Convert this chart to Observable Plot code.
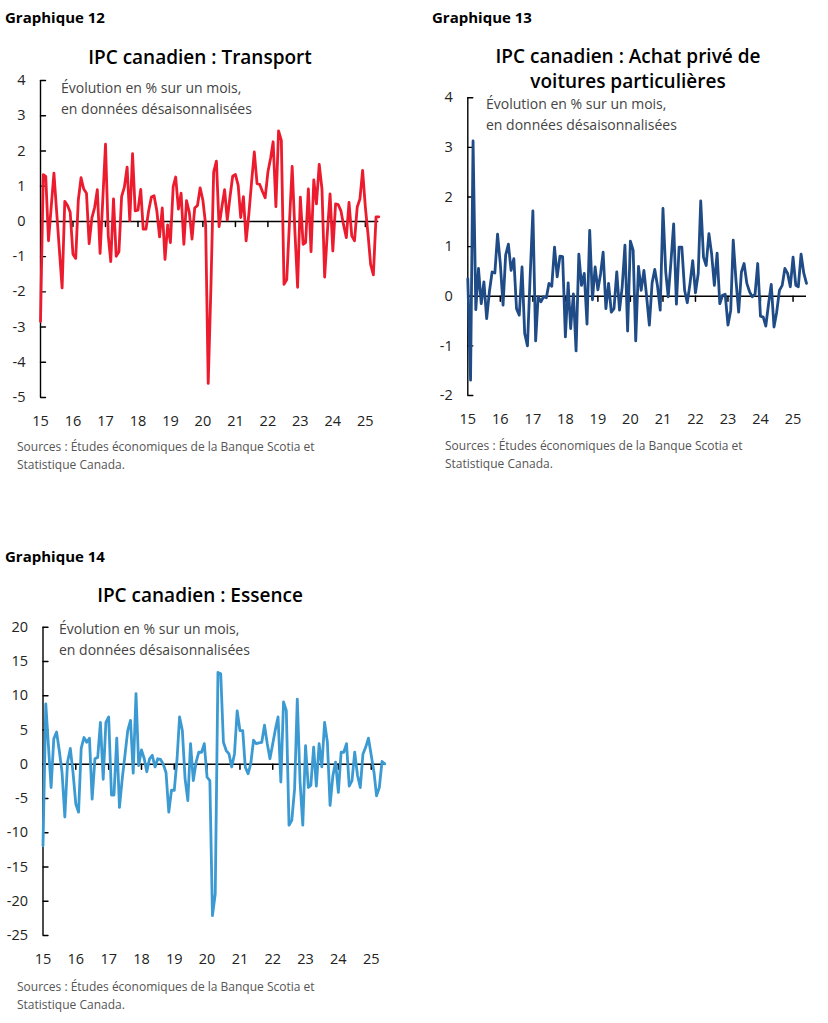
<!DOCTYPE html>
<html><head><meta charset="utf-8">
<script src="https://cdn.jsdelivr.net/npm/d3@7"></script>
<script src="https://cdn.jsdelivr.net/npm/@observablehq/plot@0.6"></script>
<style>
body{margin:0;width:828px;height:1023px;position:relative;background:#fff;font-family:"Open Sans",sans-serif;overflow:hidden}
.abs{position:absolute;white-space:nowrap}
.gr{font-weight:700;font-size:15px;color:#000;line-height:normal}
.ti{font-weight:600;font-size:19px;color:#000;text-align:center;line-height:25.3px}
.sub{font-size:14px;color:#444;line-height:21px}
.src{font-size:12px;color:#555;line-height:17.6px}
.panel{position:absolute}
</style></head><body>

<div class="abs gr" style="left:5px;top:6.5px">Graphique 12</div>
<div class="abs ti" style="left:0;width:400px;top:45px">IPC canadien : Transport</div>
<div class="abs gr" style="left:432px;top:6.5px">Graphique 13</div>
<div class="abs ti" style="left:428px;width:400px;top:44px">IPC canadien : Achat privé de<br>voitures particulières</div>
<div class="abs gr" style="left:5px;top:546px">Graphique 14</div>
<div class="abs ti" style="left:0;width:400px;top:583px">IPC canadien : Essence</div>

<div id="p12" class="panel" style="left:0;top:70px"></div>
<div id="p13" class="panel" style="left:420px;top:80px"></div>
<div id="p14" class="panel" style="left:0;top:610px"></div>

<div class="abs sub" style="left:61px;top:77px">Évolution en % sur un mois,<br>en données désaisonnalisées</div>
<div class="abs sub" style="left:486px;top:93px">Évolution en % sur un mois,<br>en données désaisonnalisées</div>
<div class="abs sub" style="left:59px;top:618px">Évolution en % sur un mois,<br>en données désaisonnalisées</div>

<div class="abs src" style="left:17px;top:438px">Sources : Études économiques de la Banque Scotia et<br>Statistique Canada.</div>
<div class="abs src" style="left:445px;top:437px">Sources : Études économiques de la Banque Scotia et<br>Statistique Canada.</div>
<div class="abs src" style="left:17px;top:978px">Sources : Études économiques de la Banque Scotia et<br>Statistique Canada.</div>

<script>
// Monthly % change, seasonally adjusted, Jan 2015 onward
const transport = [
-2.84, 1.33, 1.28, -0.55, 0.4, 1.37, 0.3, -0.8, -1.89, 0.57,
0.45, 0.26, -0.93, -1.05, 0.6, 1.24, 0.92, 0.8, -0.63, 0.1,
0.4, 0.9, -0.91, 0.6, 2.19, -0.41, -1.14, 0.64, -0.99, -0.86,
0.7, 0.97, 1.54, 0.02, 1.92, 0.3, 0.32, 0.91, -0.22, -0.22,
0.3, 0.69, 0.73, 0.3, -0.44, 0.38, -1.08, -0.1, -0.6, 0.99,
1.26, 0.35, 0.8, -0.65, 0.59, 0.26, -0.5, 0.38, 0.45, 0.95,
0.6, -0.1, -4.6, -1.8, 1.4, 1.71, -0.15, 0.4, 0.9, 0.04,
0.7, 1.28, 1.33, 1.02, 0.11, 0.7, -0.55, 0.21, 1.1, 1.97,
1.07, 1.05, 0.85, 0.67, 1.4, 1.8, 2.26, 0.42, 2.57, 2.3,
-1.79, -1.65, 0.0, 1.56, -0.3, -1.87, 0.69, -0.65, -0.6, 0.92,
-0.86, 1.18, 0.5, 1.62, 0.92, -1.58, -0.3, 0.78, -0.84, 0.5,
0.48, 0.3, -0.1, -0.46, 0.54, -0.41, -0.55, 0.4, 0.64, 1.45,
0.4, -0.4, -1.22, -1.52, 0.13, 0.13
];
const voitures = [
0.35, -1.69, 3.13, -0.27, 0.56, -0.15, 0.29, -0.45, 0.1, 0.49,
0.47, 1.25, 0.66, -0.18, 0.83, 1.05, 0.52, 0.76, -0.25, -0.38,
0.59, -0.75, -1.0, 0.39, 1.72, -0.9, -0.01, -0.11, -0.01, -0.03,
0.26, 0.2, 0.99, 0.39, 0.81, 0.8, -0.82, 0.27, -0.65, 0.05,
-1.1, 0.85, 0.22, 0.46, -0.56, 1.33, -0.07, 0.59, 0.13, 0.46,
0.89, -0.25, 0.26, -0.32, -0.25, 0.49, -0.28, 0.19, 1.03, -0.7,
1.11, 0.93, -0.9, 0.6, 0.12, 0.52, 0.0, -0.58, 0.27, 0.54,
0.2, -0.28, 1.77, 0.49, -0.01, 0.7, 1.46, -0.16, 0.99, 0.99,
0.12, -0.13, 0.26, 0.72, 0.07, 0.46, 1.92, 0.79, 0.62, 1.26,
0.86, 0.22, 0.87, -0.15, 0.02, 0.04, -0.58, -0.28, 1.13, 0.32,
-0.32, 0.49, 0.66, 0.26, 0.09, -0.01, 0.04, 0.66, -0.4, -0.42,
-0.6, -0.15, 0.24, -0.62, -0.32, 0.12, 0.22, 0.56, 0.46, 0.19,
0.79, 0.22, 0.19, 0.85, 0.47, 0.26
];
const essence = [
-11.9, 8.8, 3.0, -3.4, 3.7, 4.7, 2.0, -1.2, -7.7, 0.3,
2.3, -1.2, -5.8, -7.0, 2.3, 3.9, 3.2, 3.8, -5.1, 0.8,
1.0, 6.1, -2.2, 6.1, 6.9, -4.5, -4.5, 3.8, -6.3, -2.1,
1.3, 4.9, 6.4, -1.3, 10.3, -0.2, 2.1, 0.8, -1.1, 0.8,
1.3, -0.4, 0.8, 0.7, 0.0, -1.2, -7.0, -3.8, -3.8, 0.8,
6.9, 4.9, -2.1, -5.3, 3.0, -2.4, 0.3, 1.75, 1.75, 3.0,
-1.9, -2.4, -22.1, -18.9, 13.4, 13.2, 3.2, 2.0, 1.5, -0.4,
1.5, 7.8, 4.9, 4.9, -0.4, -1.4, 0.05, 3.5, 3.0, 3.1,
3.2, 5.7, 3.0, 0.8, 3.0, 5.2, 6.9, -2.6, 9.1, 7.8,
-8.9, -8.2, -3.6, 9.5, -2.6, -8.9, 2.7, -3.4, -3.1, 2.5,
-3.2, 3.0, -0.4, 6.1, 3.2, -6.0, -1.7, 0.3, -4.1, 1.75,
1.75, 3.0, -3.2, -2.4, 1.75, -1.6, -3.4, 1.5, 2.5, 3.8,
1.3, -1.2, -4.6, -3.4, 0.4, 0.05
];
const yearLabels = ["15","16","17","18","19","20","21","22","23","24","25"];
const ticks12 = [-5,-4,-3,-2,-1,0,1,2,3,4];
const ticks13 = [-2,-1,0,1,2,3,4];
const ticks14 = [-25,-20,-15,-10,-5,0,5,10,15,20];

const startYear = 2015;
const yearDates = yearLabels.map((l, i) => new Date(Date.UTC(startYear + i, 0, 1)));

// plain line segment shape for tick marks (no arrowhead)
const stick = {draw(context, l) { context.moveTo(0, 0); context.lineTo(0, -l); }};

function panel(values, color, yTicks, opts) {
  const data = values.map((v, i) => ({date: new Date(Date.UTC(startYear, i, 1)), value: v}));
  const start = data[0].date, end = data[data.length - 1].date;
  const yDomain = [yTicks[0], yTicks[yTicks.length - 1]];
  return Plot.plot({
    width: opts.width, height: opts.height,
    marginLeft: opts.ml, marginRight: opts.mr, marginTop: opts.mt, marginBottom: opts.mb,
    style: {fontFamily: "Open Sans", fontSize: "14.5px", color: "#222", background: "transparent", overflow: "visible"},
    x: {type: "utc", domain: [start, end], label: null},
    y: {domain: yDomain, label: null},
    marks: [
      Plot.ruleY([0], {x1: () => start, x2: () => end, stroke: "#000", strokeWidth: 1.5}),
      Plot.vector(yearDates.slice(1), {x: d => d, y: () => 0, length: 5, rotate: 180, anchor: "start", shape: stick, stroke: "#000", strokeWidth: 1.5}),
      Plot.ruleX([start], {y1: () => yDomain[0], y2: () => yDomain[1], stroke: "#000", strokeWidth: 1.4}),
      Plot.vector(yTicks, {x: () => start, y: d => d, length: 5, rotate: 90, anchor: "start", shape: stick, stroke: "#000", strokeWidth: 1.4}),
      Plot.axisY(yTicks, {tickSize: 0, tickPadding: 15, tickFormat: d => String(d), label: null}),
      Plot.axisX(yearDates, {tickSize: 0, tickPadding: 18, tickFormat: (d, i) => yearLabels[i], label: null}),
      Plot.lineY(data, {x: "date", y: "value", stroke: color, strokeWidth: 2.8, strokeLinejoin: "round"})
    ]
  });
}

document.getElementById("p12").append(panel(transport, "#EC1C2E", ticks12,
  {width: 400, height: 360, ml: 40, mr: 21.7, mt: 10, mb: 33}));
document.getElementById("p13").append(panel(voitures, "#1F4B86", ticks13,
  {width: 400, height: 360, ml: 47.3, mr: 14, mt: 17.3, mb: 45}));
document.getElementById("p14").append(panel(essence, "#3C9AD2", ticks14,
  {width: 400, height: 360, ml: 42.5, mr: 15.7, mt: 16.7, mb: 35}));
</script>
</body></html>
